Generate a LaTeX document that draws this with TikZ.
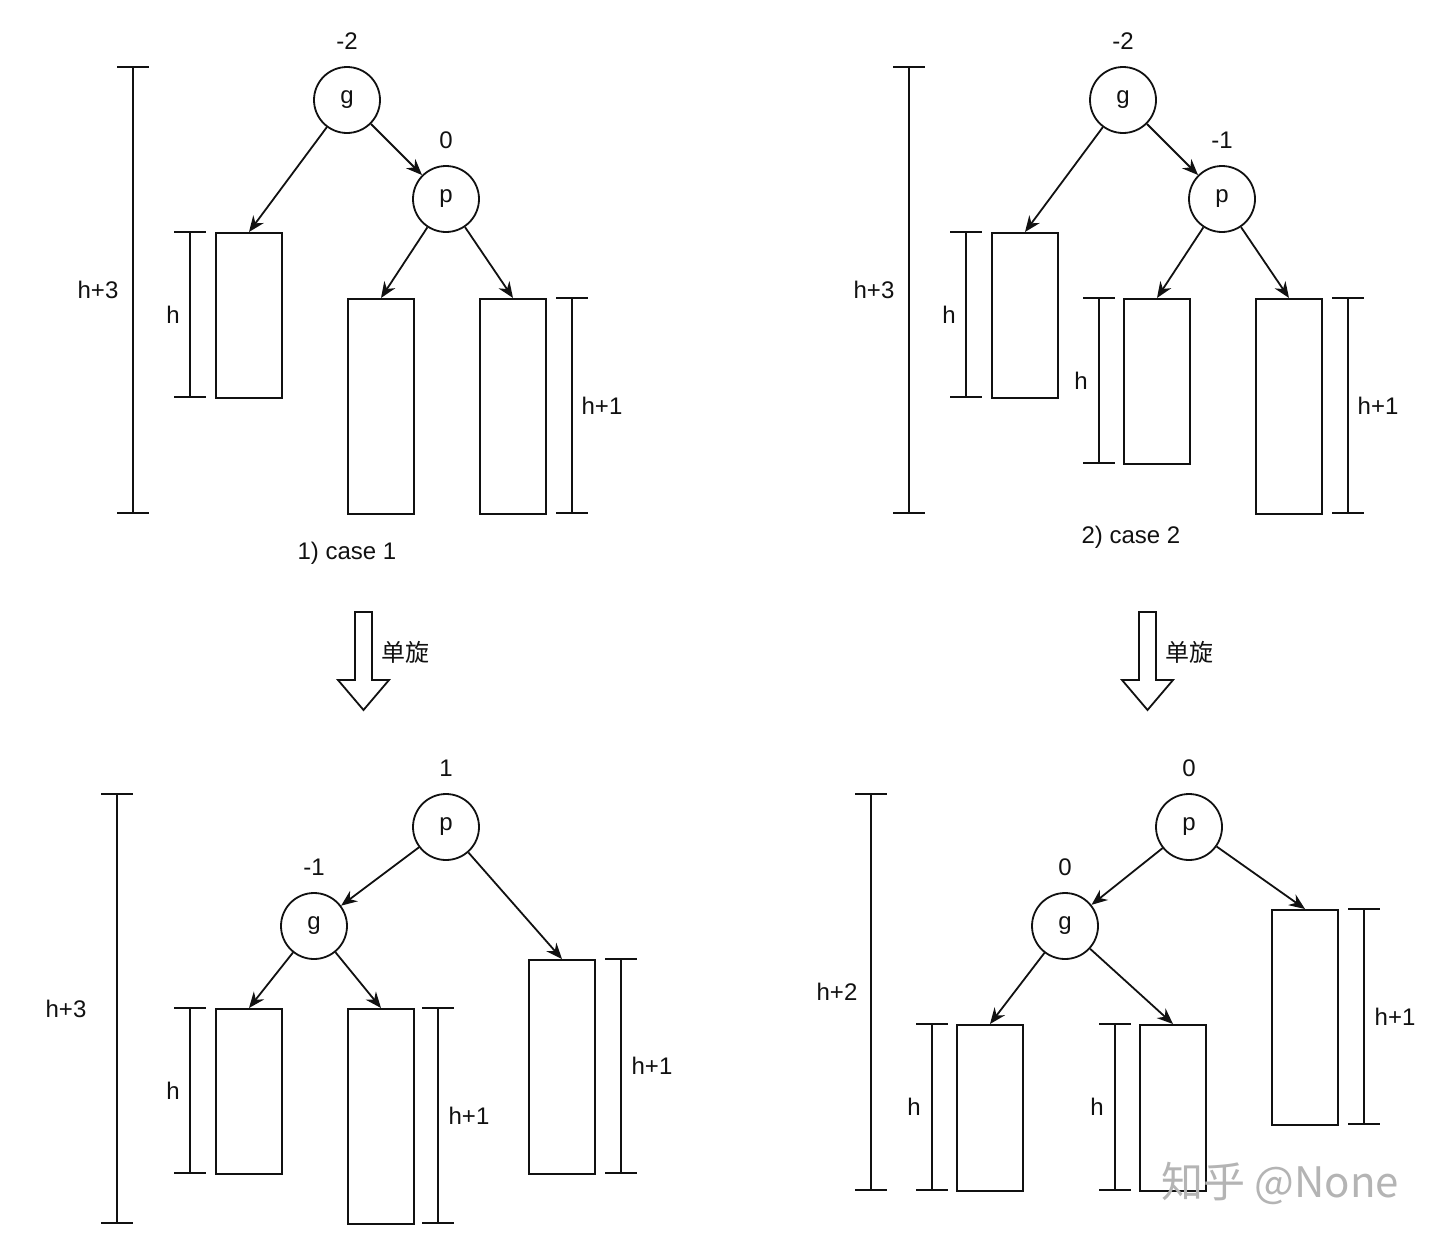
\documentclass[tikz,border=0pt]{standalone}
\usepackage{fontspec}
\setmainfont{Liberation Sans}
\newfontfamily\cjk{Noto Sans CJK SC}
\usetikzlibrary{arrows.meta}
\definecolor{avlInk}{HTML}{111111}
\definecolor{avlMark}{HTML}{B4B4B4}
\newcommand{\AVLType}{\fontsize{12}{14}\selectfont}
\tikzset{avl/base/.style={x=.5pt,y=-.5pt,line cap=butt,line join=miter,
  every node/.style={font=\AVLType,inner sep=0pt,text=avlInk}},
  avl/edge/.style={-{Stealth[length=8pt,width=6.5pt]},draw=avlInk,line width=.9pt},
  avl/span/.style={draw=avlInk,line width=.9pt},
  avl/key/.style={circle,draw=avlInk,fill=white,line width=.9pt,minimum size=33pt},
  avl/bf/.style={label distance=8pt},
  avl/sub/.style={draw=avlInk,fill=white,line width=.9pt,minimum width=33pt},
  avl/turn/.style={draw=avlInk,fill=white,line width=.9pt}}
% subtree box: name, centre x, top y, height (px)
\newcommand{\AVLSub}[4]{%
  \node[avl/sub,minimum height=#4*.5pt,anchor=north] (#1) at (#2,#3) {};}
% height bar: x, top y, bottom y, label x, label
\newcommand{\AVLSpan}[5]{%
  \draw[avl/span] ({#1-16},#2)--({#1+16},#2) (#1,#2)--(#1,#3) ({#1-16},#3)--({#1+16},#3);
  \node at (#4,{(#2+#3)/2}) {#5};}

\begin{document}
\begin{tikzpicture}[avl/base]
  \useasboundingbox (0,0) rectangle (1440,1242);
  % 1) case 1: the heavy side is the outer one
  \node[avl/key,label={[avl/bf]above:-2}] (g1) at (347,100) {g};
  \node[avl/key,label={[avl/bf]above:0}] (p1) at (446,199) {p};
  \AVLSub{A1}{249}{232}{165}
  \AVLSub{B1}{381}{298}{215}
  \AVLSub{C1}{513}{298}{215}
  \draw[avl/edge] (g1)--(A1.north);
  \draw[avl/edge] (g1)--(p1);
  \draw[avl/edge] (p1)--(B1.north);
  \draw[avl/edge] (p1)--(C1.north);
  \AVLSpan{190}{232}{397}{173}{h}
  \AVLSpan{572}{298}{513}{602}{h+1}
  \AVLSpan{133}{67}{513}{98}{h+3}
  \node (cap1) at (347,553) {1) case 1};
  % 2) case 2: p itself leans right
  \node[avl/key,label={[avl/bf]above:-2}] (g2) at (1123,100) {g};
  \node[avl/key,label={[avl/bf]above:-1}] (p2) at (1222,199) {p};
  \AVLSub{A2}{1025}{232}{165}
  \AVLSub{B2}{1157}{298}{165}
  \AVLSub{C2}{1289}{298}{215}
  \draw[avl/edge] (g2)--(A2.north);
  \draw[avl/edge] (g2)--(p2);
  \draw[avl/edge] (p2)--(B2.north);
  \draw[avl/edge] (p2)--(C2.north);
  \AVLSpan{966}{232}{397}{949}{h}
  \AVLSpan{1099}{298}{463}{1081}{h}
  \AVLSpan{1348}{298}{513}{1378}{h+1}
  \AVLSpan{909}{67}{513}{874}{h+3}
  \node (cap2) at (1131,537) {2) case 2};
  % single rotation
  \foreach \x/\name in {0/rot1,784/rot2}{
    \draw[avl/turn] ({355+\x},612)--({372+\x},612)--({372+\x},680)--({389+\x},680)
      --({363.5+\x},710)--({338+\x},680)--({355+\x},680)--cycle;
    \node[anchor=west] (\name) at ({381+\x},652) {\cjk 单旋};}
  % after rotating case 1
  \node[avl/key,label={[avl/bf]above:1}] (p3) at (446,827) {p};
  \node[avl/key,label={[avl/bf]above:-1}] (g3) at (314,926) {g};
  \AVLSub{A3}{249}{1008}{165}
  \AVLSub{B3}{381}{1008}{215}
  \AVLSub{C3}{562}{959}{214}
  \draw[avl/edge] (p3)--(g3);
  \draw[avl/edge] (p3)--(C3.north);
  \draw[avl/edge] (g3)--(A3.north);
  \draw[avl/edge] (g3)--(B3.north);
  \AVLSpan{190}{1008}{1173}{173}{h}
  \AVLSpan{438}{1008}{1223}{469}{h+1}
  \AVLSpan{621}{959}{1173}{652}{h+1}
  \AVLSpan{117}{794}{1223}{66}{h+3}
  % after rotating case 2
  \node[avl/key,label={[avl/bf]above:0}] (p4) at (1189,827) {p};
  \node[avl/key,label={[avl/bf]above:0}] (g4) at (1065,926) {g};
  \AVLSub{A4}{990}{1024}{166}
  \AVLSub{B4}{1173}{1024}{166}
  \AVLSub{C4}{1305}{909}{215}
  \draw[avl/edge] (p4)--(g4);
  \draw[avl/edge] (p4)--(C4.north);
  \draw[avl/edge] (g4)--(A4.north);
  \draw[avl/edge] (g4)--(B4.north);
  \AVLSpan{932}{1024}{1190}{914}{h}
  \AVLSpan{1115}{1024}{1190}{1097}{h}
  \AVLSpan{1364}{909}{1124}{1395}{h+1}
  \AVLSpan{871}{794}{1190}{837}{h+2}
  \node[text=avlMark,font=\fontsize{21}{24}\selectfont] (mark) at (1280,1183) {\cjk 知乎 @None};
\end{tikzpicture}
\end{document}
